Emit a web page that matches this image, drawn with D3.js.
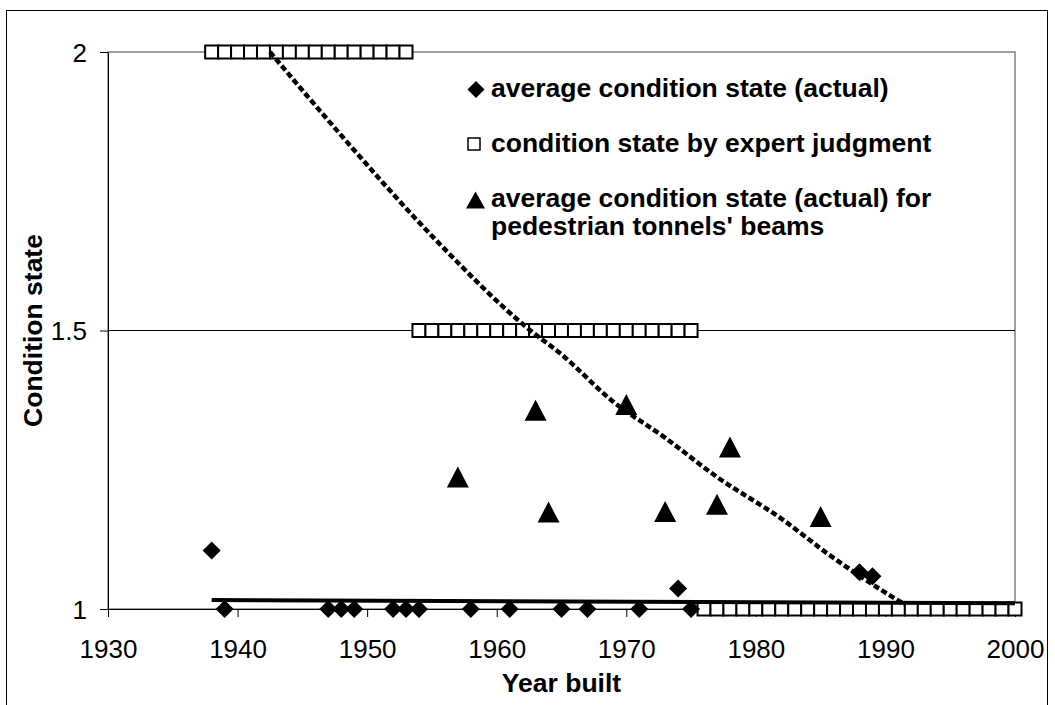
<!DOCTYPE html>
<html>
<head>
<meta charset="utf-8">
<script src="https://cdn.jsdelivr.net/npm/d3@7"></script>
<style>
  html, body { margin: 0; padding: 0; background: #fff; }
  svg { display: block; font-family: Arial, "Liberation Sans", sans-serif; }
</style>
</head>
<body>
<svg id="chart" width="1055" height="705"></svg>
<script>
// ---- data ----
const actualYears  = [1938, 1939, 1947, 1948, 1949, 1952, 1953, 1954, 1958, 1961, 1965, 1967, 1971, 1974, 1975, 1988, 1989];
const actualValues = [1.105, 1, 1, 1, 1, 1, 1, 1, 1, 1, 1, 1, 1, 1.037, 1, 1.066, 1.059];

const expertYears  = [1938,1939,1940,1941,1942,1943,1944,1945,1946,1947,1948,1949,1950,1951,1952,1953,
                      1954,1955,1956,1957,1958,1959,1960,1961,1962,1963,1964,1965,1966,1967,1968,1969,1970,1971,1972,1973,1974,1975,
                      1976,1977,1978,1979,1980,1981,1982,1983,1984,1985,1986,1987,1988,1989,1990,1991,1992,1993,1994,1995,1996,1997,1998,1999,2000];
const expertValues = [2,2,2,2,2,2,2,2,2,2,2,2,2,2,2,2,
                      1.5,1.5,1.5,1.5,1.5,1.5,1.5,1.5,1.5,1.5,1.5,1.5,1.5,1.5,1.5,1.5,1.5,1.5,1.5,1.5,1.5,1.5,
                      1,1,1,1,1,1,1,1,1,1,1,1,1,1,1,1,1,1,1,1,1,1,1,1,1];

const beamYears  = [1957, 1963, 1964, 1970, 1973, 1977, 1978, 1985];
const beamValues = [1.237, 1.357, 1.174, 1.367, 1.175, 1.188, 1.291, 1.166];

// trend of expert judgment (dotted)
const expertTrendYears  = [1942.5, 1948.2, 1955.2, 1962.6, 1964.9, 1969.0, 1972.9, 1977.0, 1982.1, 1985.5, 1990.1, 1991.5];
const expertTrendValues = [2.0, 1.845, 1.665, 1.5, 1.459, 1.372, 1.309, 1.237, 1.16, 1.10, 1.028, 1.008];

// linear trend of actual average condition (solid)
const actualTrendYears  = [1938, 2000];
const actualTrendValues = [1.0162, 1.0101];

const xTicks = [1930, 1940, 1950, 1960, 1970, 1980, 1990, 2000];
const yTicks = [1, 1.5, 2];

const legendLabels = [
  ["average condition state (actual)"],
  ["condition state by expert judgment"],
  ["average condition state (actual) for", "pedestrian tonnels' beams"]
];
const xTitle = "Year built";
const yTitle = "Condition state";

// ---- layout ----
const svg = d3.select("#chart");
const L = 108, R = 1015, T = 52, B = 609;
const x = d3.scaleLinear().domain([1930, 2000]).range([L, R]);
const y = d3.scaleLinear().domain([1, 2]).range([B, T]);
const FONT = "Arial, 'Liberation Sans', sans-serif";

svg.append("rect").attr("width", 1055).attr("height", 705).attr("fill", "#fff");
// outer chart border
svg.append("rect").attr("x", 6.5).attr("y", 10.5).attr("width", 1041).attr("height", 720)
  .attr("fill", "none").attr("stroke", "#000").attr("stroke-width", 1);

// plot area border (gray)
svg.append("rect").attr("x", L).attr("y", T).attr("width", R - L).attr("height", B - T)
  .attr("fill", "none").attr("stroke", "#808080").attr("stroke-width", 1.5);

// gridlines
svg.append("g").selectAll("line").data(yTicks.filter(d => d > 1 && d < 2)).join("line")
  .attr("x1", L).attr("x2", R).attr("y1", d => y(d)).attr("y2", d => y(d))
  .attr("stroke", "#000").attr("stroke-width", 1);

// axes
const xAxis = d3.axisBottom(x).tickValues(xTicks).tickFormat(d3.format("d")).tickSize(8).tickSizeOuter(0);
const gx = svg.append("g").attr("transform", `translate(0,${B})`).call(xAxis);
gx.select(".domain").attr("stroke", "#000");
gx.selectAll(".tick line").attr("stroke", "#000");
gx.selectAll(".tick text").attr("font-size", 26).attr("fill", "#000").attr("font-family", FONT)
  .attr("dy", null).attr("y", 49);

const yAxis = d3.axisLeft(y).tickValues(yTicks).tickFormat(d => d === 1.5 ? "1.5" : d3.format("d")(d)).tickSize(8).tickSizeOuter(0).tickPadding(13);
const gy = svg.append("g").attr("transform", `translate(${L},0)`).call(yAxis);
gy.select(".domain").attr("stroke", "#000");
gy.selectAll(".tick line").attr("stroke", "#000");
gy.selectAll(".tick text").attr("font-size", 26).attr("fill", "#000").attr("font-family", FONT)
  .attr("dy", "0.35em");

// titles
svg.append("text").attr("x", (L + R) / 2).attr("y", 692).attr("text-anchor", "middle")
  .attr("font-size", 26.5).attr("font-weight", "bold").text(xTitle);
svg.append("text").attr("transform", `translate(42,${(T + B) / 2}) rotate(-90)`).attr("text-anchor", "middle")
  .attr("font-size", 26.5).attr("font-weight", "bold").text(yTitle);

// marker shapes
const diamond = s => `M0,${-s}L${s},0L0,${s}L${-s},0Z`;
const triangle = (w, h) => `M0,${-h / 2}L${w / 2},${h / 2}L${-w / 2},${h / 2}Z`;

const plot = svg.append("g");

// expert judgment squares
plot.append("g").selectAll("rect").data(expertYears.map((d, i) => [d, expertValues[i]])).join("rect")
  .attr("x", d => x(d[0]) - 6.5).attr("y", d => y(d[1]) - 6.5).attr("width", 13).attr("height", 13)
  .attr("fill", "#fff").attr("stroke", "#000").attr("stroke-width", 2);

// actual diamonds
plot.append("g").selectAll("path").data(actualYears.map((d, i) => [d, actualValues[i]])).join("path")
  .attr("d", diamond(9)).attr("transform", d => `translate(${x(d[0])},${y(d[1])})`).attr("fill", "#000");

// beams triangles
plot.append("g").selectAll("path").data(beamYears.map((d, i) => [d, beamValues[i]])).join("path")
  .attr("d", triangle(22, 21)).attr("transform", d => `translate(${x(d[0])},${y(d[1])})`).attr("fill", "#000");

// trendlines
const line = d3.line().x(d => x(d[0])).y(d => y(d[1]));
plot.append("path").datum(actualTrendYears.map((d, i) => [d, actualTrendValues[i]]))
  .attr("d", line).attr("fill", "none").attr("stroke", "#000").attr("stroke-width", 4);
plot.append("path").datum(expertTrendYears.map((d, i) => [d, expertTrendValues[i]]))
  .attr("d", line.curve(d3.curveMonotoneX)).attr("fill", "none").attr("stroke", "#000")
  .attr("stroke-width", 4.5).attr("stroke-dasharray", "6,3");

// legend
const lg = svg.append("g");
const legendY = [97, 152, 207];
const legendMarkY = [89.5, 144, 200];
const legendMarkX = [476, 474, 475.5];
const legendMarks = [
  g => g.append("path").attr("d", diamond(8.5)).attr("fill", "#000"),
  g => g.append("rect").attr("x", -6).attr("y", -6).attr("width", 12).attr("height", 12).attr("fill", "#fff").attr("stroke", "#000").attr("stroke-width", 1.5),
  g => g.append("path").attr("d", triangle(19, 17)).attr("fill", "#000")
];
legendLabels.forEach((lines, i) => {
  const gm = lg.append("g").attr("transform", `translate(${legendMarkX[i]},${legendMarkY[i]})`);
  legendMarks[i](gm);
  const t = lg.append("text").attr("x", 491).attr("y", legendY[i]).attr("font-size", 26.5).attr("font-weight", "bold");
  lines.forEach((s, j) => t.append("tspan").attr("x", 491).attr("dy", j === 0 ? 0 : 28).text(s));
});
</script>
</body>
</html>
